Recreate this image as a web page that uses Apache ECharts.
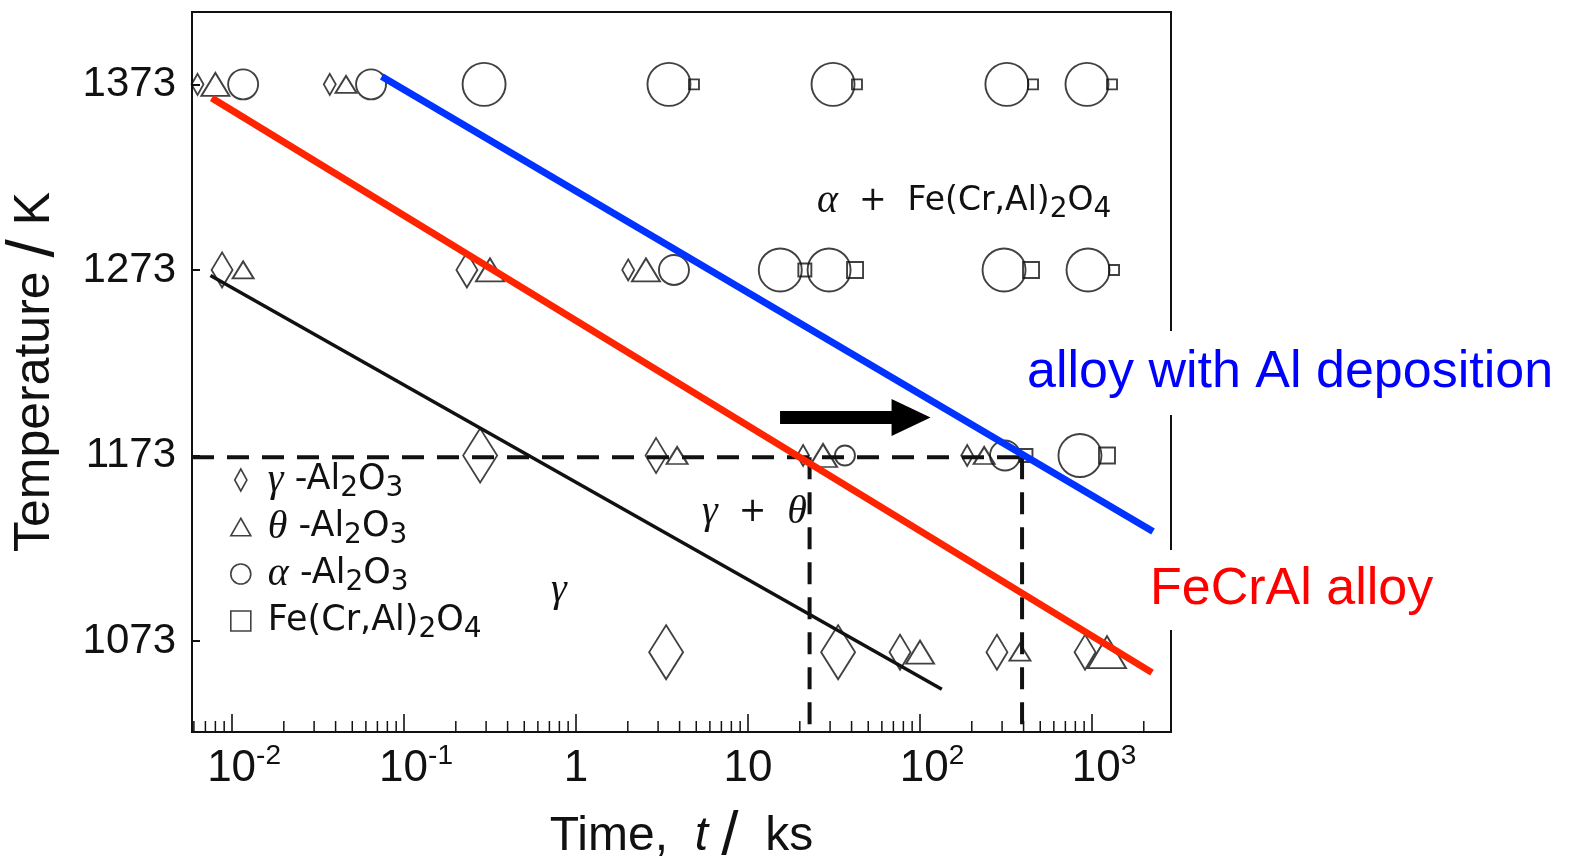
<!DOCTYPE html>
<html>
<head>
<meta charset="utf-8">
<script src="https://cdn.jsdelivr.net/npm/echarts@6/dist/echarts.min.js"></script>
<style>
  html, body { margin: 0; padding: 0; background: #fff; }
  #chart { width: 1575px; height: 860px; }
</style>
</head>
<body>
<div id="chart"></div>
<script>
// Oxide phases found after oxidation: [time (ks), temperature (K), relative amount 1..3]
const gammaAl2O3 = [
  [0.0063, 1373, 1], [0.037, 1373, 1],
  [0.00875, 1273, 2], [0.232, 1273, 2], [2.01, 1273, 1],
  [0.277, 1173, 3], [2.92, 1173, 2], [20.9, 1173, 1], [188, 1173, 1],
  [3.34, 1067, 3], [33.4, 1067, 3], [76.5, 1067, 2], [280, 1067, 2], [911, 1067, 2]
];
const thetaAl2O3 = [
  [0.0080, 1373, 2], [0.046, 1373, 1],
  [0.0116, 1273, 1], [0.316, 1273, 2], [2.55, 1273, 2],
  [3.87, 1173, 1], [27.3, 1173, 2], [236, 1173, 1],
  [100, 1067, 2], [381, 1067, 1], [1222, 1067, 3]
];
const alphaAl2O3 = [
  [0.0116, 1373, 2], [0.0643, 1373, 2], [0.292, 1373, 3], [3.47, 1373, 3],
  [31.2, 1373, 3], [320, 1373, 3], [935, 1373, 3],
  [3.71, 1273, 2], [15.4, 1273, 3], [29.6, 1273, 3], [308, 1273, 3], [948, 1273, 3],
  [36.6, 1173, 1], [312, 1173, 2], [851, 1173, 3]
];
const spinelOxide = [
  [4.85, 1373, 1], [43.0, 1373, 1], [454, 1373, 1], [1307, 1373, 1],
  [21.4, 1273, 2], [41.9, 1273, 3], [442, 1273, 3], [1343, 1273, 1],
  [413, 1173, 2], [1222, 1173, 3]
];

// Phase boundaries (time ks, temperature K)
const gammaThetaBoundary = [[0.00749, 1270], [133.9, 1047]];
const fecralBoundary = [[0.00762, 1365.6], [2233, 1056]];
const depositedBoundary = [[0.0742, 1377.2], [2263, 1132]];

// Isothermal read-off at 1173 K and the shift of the transformation time
const isoTemp = 1172;
const tFeCrAl = 22.8;
const tDeposited = 392;
const shiftArrow = [[15.35, 1193.5], [88.7, 1193.5]];

// Axes
const X_MIN = 0.00585, X_MAX = 2879;
const Y_MIN = 1024, Y_MAX = 1412;
const yTicks = [1073, 1173, 1273, 1373];

// minor ticks of the logarithmic time axis (2..9 in each decade)
const minorTicks = [];
for (let e = -3; e <= 3; e++) {
  for (let m = 2; m <= 9; m++) {
    const v = m * Math.pow(10, e);
    if (v > X_MIN && v < X_MAX) minorTicks.push(v);
  }
}

// marker size by relative amount
const diamondSize = { 1: [12, 21], 2: [21, 35], 3: [34, 54] };
const triangleSize = { 1: [21, 17], 2: [28, 23], 3: [38, 32] };
const circleSize = { 1: 20, 2: 30, 3: 43 };
const squareSize = { 1: 10, 2: 13, 3: 16 };

const INK = '#111';
const SUB = { fontSize: 28, lineHeight: 28, verticalAlign: 'bottom', fontFamily: 'DejaVu Sans' };
const GREEK = { fontFamily: 'Liberation Serif', fontStyle: 'italic', fontSize: 40, lineHeight: 46 };
const PHASE_RICH = { g: GREEK, b: SUB };

const legendText = {
  'gamma-Al2O3': '{g|γ} -Al{b|2}O{b|3}',
  'theta-Al2O3': '{g|θ} -Al{b|2}O{b|3}',
  'alpha-Al2O3': '{g|α} -Al{b|2}O{b|3}',
  'Fe(Cr,Al)2O4': 'Fe(Cr,Al){b|2}O{b|4}'
};

function markers(name, symbol, data, sizeOf) {
  return {
    type: 'scatter', name, symbol, data,
    symbolSize: v => sizeOf[v[2]],
    itemStyle: { color: 'rgba(0,0,0,0)', borderColor: INK, borderWidth: 1.9 },
    emphasis: { disabled: true }, silent: true, z: 2
  };
}

function boundary(data, color, width, z) {
  return {
    type: 'line', data, symbol: 'none', silent: true, z,
    lineStyle: { color, width, cap: 'butt' }, emphasis: { disabled: true }
  };
}

function dashed(data) {
  return {
    type: 'line', data, symbol: 'none', silent: true, z: 3,
    lineStyle: { color: INK, width: 4, type: [22, 13] }, emphasis: { disabled: true }
  };
}

function timeLabel(v) {
  const e = Math.round(Math.log10(v));
  if (Math.abs(Math.log10(v) - e) > 1e-6) return '';
  if (e === 0) return '1';
  if (e === 1) return '10';
  const exp = e < 0 ? '-' + (-e) : String(e);
  return '{sp|}10{sup|' + exp + '}';
}

const chart = echarts.init(document.getElementById('chart'), null, { renderer: 'canvas' });
chart.setOption({
  animation: false,
  backgroundColor: '#fff',
  grid: {
    left: 192, right: 404, top: 12, bottom: 128, containLabel: false, outerBoundsMode: 'none',
    show: true, borderColor: INK, borderWidth: 2
  },
  xAxis: {
    type: 'log', logBase: 10, min: X_MIN, max: X_MAX,
    axisLine: { show: true, lineStyle: { color: INK, width: 2 } },
    axisTick: { inside: true, length: 18, lineStyle: { color: INK, width: 1.6 } },
    minorTick: { show: false },
    splitLine: { show: false },
    axisLabel: {
      formatter: timeLabel, showMinLabel: false, showMaxLabel: false,
      margin: 10, color: INK, fontSize: 44, lineHeight: 54,
      fontFamily: "'Liberation Sans Narrow', 'Liberation Sans', Arial",
      rich: {
        sup: { fontSize: 28, lineHeight: 28, verticalAlign: 'top', fontFamily: "'Liberation Sans Narrow', 'Liberation Sans', Arial" },
        sp: { width: 24 }
      }
    },
    name: 'Time,  {i|t} {s|/}  ks', nameLocation: 'middle', nameGap: 74,
    nameTextStyle: {
      color: INK, fontSize: 48, fontFamily: "'Liberation Sans', Arial",
      rich: {
        i: { fontSize: 48, fontStyle: 'italic', fontFamily: "'Liberation Sans', Arial" },
        s: { fontSize: 62, fontFamily: "'Liberation Sans', Arial" }
      }
    }
  },
  yAxis: {
    type: 'value', min: Y_MIN, max: Y_MAX,
    axisLine: { show: true, lineStyle: { color: INK, width: 2 } },
    axisTick: { inside: true, length: 8, customValues: yTicks, lineStyle: { color: INK, width: 2 } },
    axisLabel: {
      customValues: yTicks, formatter: v => String(v),
      color: INK, fontSize: 42, margin: 16, fontFamily: "'Liberation Sans', Arial"
    },
    splitLine: { show: false },
    name: 'Temperature {s|/} K', nameLocation: 'middle', nameRotate: 90, nameGap: 124,
    nameTextStyle: {
      color: INK, fontSize: 50, fontFamily: "'Liberation Sans', Arial",
      rich: { s: { fontSize: 66, fontFamily: "'Liberation Sans', Arial" } }
    }
  },
  legend: {
    orient: 'vertical', left: 230, top: 457, padding: 0, itemGap: 1,
    itemWidth: 20, itemHeight: 22, selectedMode: false,
    itemStyle: { color: 'rgba(0,0,0,0)', borderColor: INK, borderWidth: 1.6 },
    data: [
      { name: 'gamma-Al2O3', icon: 'path://M5 0L10 9L5 18L0 9Z' },
      { name: 'theta-Al2O3', icon: 'path://M8 0L16 14L0 14Z' },
      { name: 'alpha-Al2O3', icon: 'circle' },
      { name: 'Fe(Cr,Al)2O4', icon: 'path://M0 0H15V15H0Z' }
    ],
    formatter: name => legendText[name],
    textStyle: {
      color: INK, fontSize: 35, lineHeight: 46, fontFamily: 'DejaVu Sans',
      padding: [0, 0, 0, 12], rich: PHASE_RICH
    }
  },
  graphic: [
    {
      type: 'text', x: 817, y: 201, z: 50, silent: true,
      style: { text: '{g|α}  +  Fe(Cr,Al){b|2}O{b|4}', fill: INK, fontSize: 33, lineHeight: 46,
               fontFamily: 'DejaVu Sans', verticalAlign: 'middle', rich: PHASE_RICH }
    },
    {
      type: 'text', x: 702, y: 512, z: 50, silent: true,
      style: { text: '{g|γ}  +  {g|θ}', fill: INK, fontSize: 33, lineHeight: 46,
               fontFamily: 'DejaVu Sans', verticalAlign: 'middle', rich: PHASE_RICH }
    },
    {
      type: 'text', x: 551, y: 590, z: 50, silent: true,
      style: { text: '{g|γ}', fill: INK, fontSize: 33, lineHeight: 46,
               fontFamily: 'DejaVu Sans', verticalAlign: 'middle', rich: PHASE_RICH }
    },
    {
      type: 'text', x: 1019, y: 373, z: 100, silent: true,
      style: { text: 'alloy with Al deposition', fill: '#0000ff', fontSize: 52,
               fontFamily: "'Liberation Sans', Arial", verticalAlign: 'middle',
               backgroundColor: '#fff', padding: [16, 8, 16, 8] }
    },
    {
      type: 'text', x: 1142, y: 590, z: 100, silent: true,
      style: { text: 'FeCrAl alloy', fill: '#ff0000', fontSize: 52,
               fontFamily: "'Liberation Sans', Arial", verticalAlign: 'middle',
               backgroundColor: '#fff', padding: [14, 8, 14, 8] }
    }
  ],
  series: [
    {
      type: 'custom', silent: true, z: 1, clip: false,
      data: minorTicks.map(v => [v, Y_MIN]),
      renderItem: (params, api) => {
        const p = api.coord([api.value(0), api.value(1)]);
        return { type: 'line', shape: { x1: p[0], y1: p[1], x2: p[0], y2: p[1] - 11 },
                 style: { stroke: INK, lineWidth: 1.5 } };
      }
    },
    markers('gamma-Al2O3', 'diamond', gammaAl2O3, diamondSize),
    markers('theta-Al2O3', 'triangle', thetaAl2O3, triangleSize),
    markers('alpha-Al2O3', 'circle', alphaAl2O3, circleSize),
    markers('Fe(Cr,Al)2O4', 'rect', spinelOxide, squareSize),
    boundary(gammaThetaBoundary, INK, 3.5, 3),
    dashed([[X_MIN, isoTemp], [tDeposited, isoTemp]]),
    dashed([[tFeCrAl, isoTemp], [tFeCrAl, Y_MIN]]),
    dashed([[tDeposited, isoTemp], [tDeposited, Y_MIN]]),
    boundary(fecralBoundary, '#ff2400', 7, 4),
    boundary(depositedBoundary, '#0033ff', 7, 4),
    {
      type: 'line', data: [], silent: true, z: 4,
      markLine: {
        silent: true, symbol: ['none', 'triangle'], symbolSize: [37, 39],
        label: { show: false }, emphasis: { disabled: true },
        lineStyle: { color: '#000', width: 13, type: 'solid' },
        data: [[{ coord: shiftArrow[0] }, { coord: shiftArrow[1] }]]
      }
    }
  ]
});
</script>
</body>
</html>
